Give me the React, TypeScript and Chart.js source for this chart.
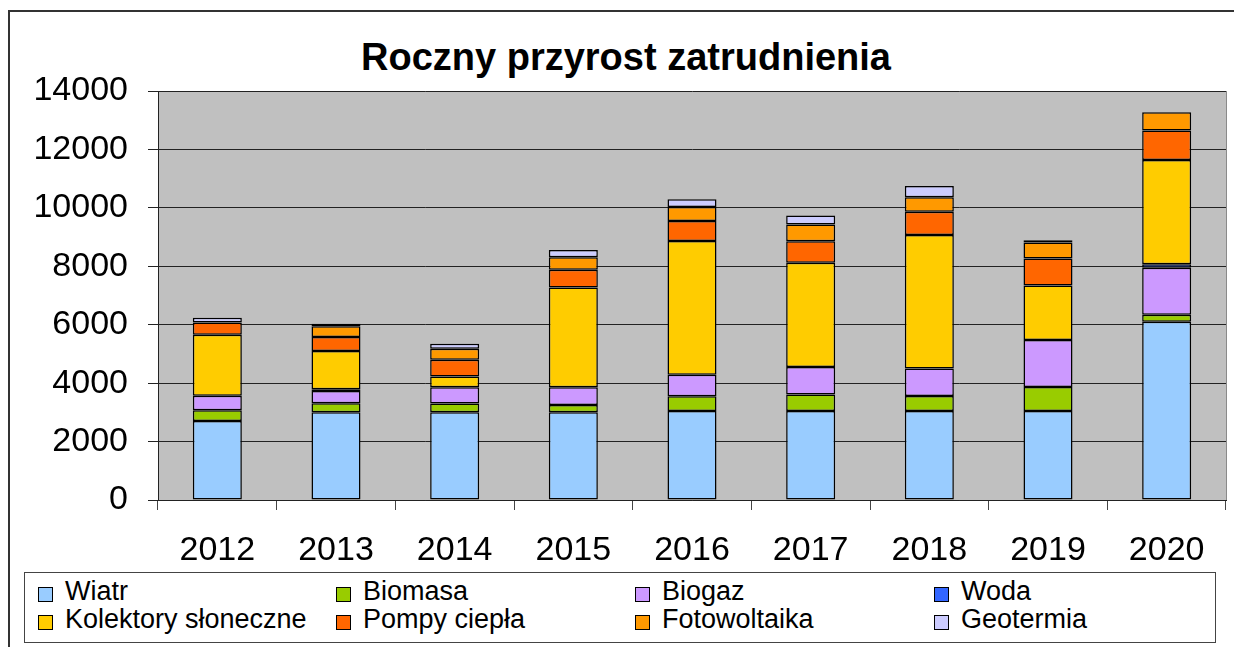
import React, { useEffect, useRef } from "react";
import { Chart, registerables } from "chart.js";

Chart.register(...registerables);

const years = ["2012", "2013", "2014", "2015", "2016", "2017", "2018", "2019", "2020"];
const wiatr = [2700, 3000, 3000, 3000, 3050, 3050, 3050, 3050, 6100];
const biomasa = [370, 310, 300, 250, 500, 560, 510, 820, 240];
const biogaz = [500, 420, 560, 610, 740, 940, 940, 1610, 1610];
const woda = [0, 60, 0, 0, 0, 0, 0, 0, 120];
const kolektory = [2090, 1310, 370, 3410, 4575, 3570, 4570, 1860, 3570];
const pompy = [420, 480, 570, 615, 685, 740, 800, 925, 1005];
const fotowoltaika = [0, 365, 375, 425, 480, 570, 490, 550, 630];
const geotermia = [160, 90, 170, 250, 265, 310, 385, 80, 0];

const seriesNames = ["Wiatr", "Biomasa", "Biogaz", "Woda", "Kolektory słoneczne", "Pompy ciepła", "Fotowoltaika", "Geotermia"];
const seriesValues = [wiatr, biomasa, biogaz, woda, kolektory, pompy, fotowoltaika, geotermia];
const seriesColors = ["#99CCFF", "#99CC00", "#CC99FF", "#3366FF", "#FFCC00", "#FF6600", "#FF9900", "#CCCCFF"];

const titleText = "Roczny przyrost zatrudnienia";
const FONT = "'Liberation Sans', Arial, sans-serif";

const plotBg = {
  id: "plotBg",
  beforeDraw(chart: any) {
    const { ctx, chartArea } = chart;
    ctx.save();
    ctx.fillStyle = "#C0C0C0";
    ctx.fillRect(chartArea.left, chartArea.top, chartArea.right - chartArea.left, chartArea.bottom - chartArea.top);
    ctx.restore();
  },
  afterDraw(chart: any) {
    const { ctx, chartArea } = chart;
    ctx.save();
    ctx.strokeStyle = "#8a8a8a";
    ctx.lineWidth = 1;
    ctx.beginPath();
    ctx.moveTo(chartArea.right + 0.5, chartArea.top);
    ctx.lineTo(chartArea.right + 0.5, chartArea.bottom);
    ctx.stroke();
    ctx.restore();
  },
};

export default function App() {
  const ref = useRef<HTMLCanvasElement | null>(null);

  useEffect(() => {
    if (!ref.current) return;
    const chart = new Chart(ref.current, {
      type: "bar",
      data: {
        labels: years,
        datasets: seriesNames.map((name, i) => ({
          label: name,
          data: seriesValues[i],
          backgroundColor: seriesColors[i],
          borderColor: "#000000",
          borderWidth: 1.5,
          borderSkipped: false,
          barPercentage: 0.413,
          categoryPercentage: 1,
        })),
      },
      options: {
        responsive: false,
        animation: false,
        devicePixelRatio: 1,
        layout: { padding: { left: 0, right: 8, top: 91, bottom: 0 } },
        plugins: {
          legend: { display: false },
          title: { display: false },
          tooltip: { enabled: false },
        },
        scales: {
          x: {
            stacked: true,
            grid: {
              display: true,
              drawOnChartArea: false,
              drawTicks: true,
              tickLength: 10,
              color: "#444444",
              offset: true,
            },
            border: { display: true, color: "#222222", width: 1 },
            ticks: {
              color: "#000000",
              font: { family: FONT, size: 34 },
              padding: 20,
              maxRotation: 0,
            },
            afterFit: (s: any) => {
              s.height = 70;
            },
          },
          y: {
            stacked: true,
            min: 0,
            max: 14000,
            grid: {
              color: "#222222",
              lineWidth: 1,
              tickLength: 10,
              drawTicks: true,
            },
            border: { display: true, color: "#222222", width: 1 },
            ticks: {
              stepSize: 2000,
              color: "#000000",
              font: { family: FONT, size: 34 },
              padding: 20,
              callback: (v: any) => String(v),
            },
            afterFit: (s: any) => {
              s.width = 158;
            },
          },
        },
      },
      plugins: [plotBg],
    });
    return () => chart.destroy();
  }, []);

  const colX = [38, 336, 635, 934];
  const rowY = [587, 615];

  return (
    <div
      style={{
        position: "fixed",
        left: 0,
        top: 0,
        width: 1234,
        height: 647,
        background: "#ffffff",
        overflow: "hidden",
        fontFamily: FONT,
      }}
    >
      <div
        style={{
          position: "absolute",
          left: 8,
          top: 10,
          width: 1300,
          height: 700,
          borderTop: "2px solid #333",
          borderLeft: "2px solid #333",
          boxSizing: "border-box",
        }}
      />
      <div
        style={{
          position: "absolute",
          left: 0,
          top: 34,
          width: 1252,
          textAlign: "center",
          fontSize: 38,
          lineHeight: "46px",
          fontWeight: "bold",
          color: "#000",
          whiteSpace: "nowrap",
        }}
      >
        {titleText}
      </div>
      <canvas
        ref={ref}
        width={1234}
        height={570}
        style={{ position: "absolute", left: 0, top: 0, width: 1234, height: 570 }}
      />
      <div
        style={{
          position: "absolute",
          left: 24,
          top: 572,
          width: 1192,
          height: 71,
          border: "1px solid #444",
          boxSizing: "border-box",
          background: "#fff",
        }}
      />
      {seriesNames.map((name, i) => {
        const col = i % 4;
        const row = Math.floor(i / 4);
        return (
          <div key={name}>
            <div
              style={{
                position: "absolute",
                left: colX[col],
                top: rowY[row],
                width: 15,
                height: 15,
                background: seriesColors[i],
                border: "1px solid #000",
                boxSizing: "border-box",
              }}
            />
            <div
              style={{
                position: "absolute",
                left: colX[col] + 27,
                top: rowY[row] - 11,
                fontSize: 27,
                lineHeight: "30px",
                color: "#000",
                whiteSpace: "nowrap",
              }}
            >
              {name}
            </div>
          </div>
        );
      })}
    </div>
  );
}
